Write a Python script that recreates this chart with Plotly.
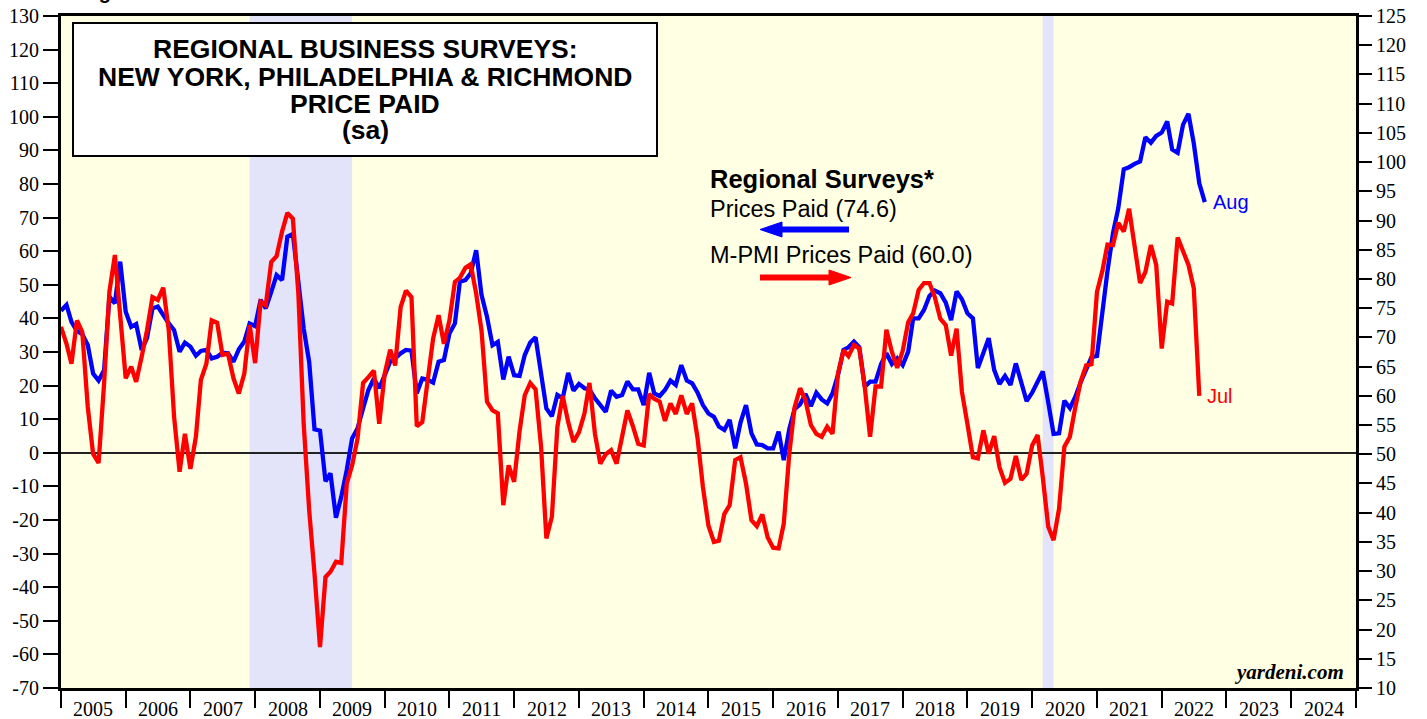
import pandas as pd
import plotly.graph_objects as go

# ---------------- data (monthly, first value = Dec 2004) ----------------
regional_prices_paid = [
    42.3, 44.0, 39.0, 36.3, 35.3, 32.1, 23.6, 21.5, 24.6, 46.5, 44.5, 56.9,
    42.0, 37.5, 38.3, 30.6, 34.1, 43.0, 43.5, 40.7, 38.5, 36.5, 30.1, 32.8,
    31.6, 28.9, 30.3, 30.6, 28.1, 28.6, 29.8, 29.6, 27.1, 30.8, 33.1, 38.5,
    37.7, 45.5, 43.0, 47.9, 52.9, 51.4, 64.3, 65.1, 52.0, 37.0, 27.0, 7.0,
    6.6, -8.5, -6.1, -19.3, -13.1, -5.1, 4.3, 7.3, 13.2, 18.7, 22.1, 19.2,
    23.1, 27.1, 28.1, 29.6, 30.6, 30.4, 17.7, 22.1, 21.7, 20.9, 27.1, 27.6,
    35.5, 38.5, 50.9, 51.4, 53.4, 60.3, 47.0, 40.5, 32.0, 33.0, 21.8, 28.6,
    23.1, 22.9, 29.1, 32.8, 34.4, 24.6, 13.2, 10.9, 17.2, 16.2, 23.8, 18.5,
    20.5, 19.2, 18.9, 16.2, 14.2, 12.2, 18.5, 16.7, 17.2, 21.2, 18.9, 18.9,
    14.2, 23.8, 17.7, 16.9, 18.7, 21.5, 20.2, 26.1, 21.5, 20.7, 17.9, 14.2,
    11.7, 10.7, 7.8, 6.8, 9.8, 1.3, 9.0, 14.2, 5.8, 2.5, 2.3, 1.3,
    1.3, 6.3, -2.2, 7.0, 13.0, 14.4, 17.5, 13.9, 17.9, 15.9, 14.7, 17.7,
    23.2, 30.6, 31.4, 33.1, 31.4, 19.7, 21.2, 21.2, 26.4, 29.6, 26.4, 28.1,
    26.1, 30.1, 40.0, 40.0, 42.5, 46.7, 48.3, 47.5, 44.7, 39.5, 48.0, 45.7,
    41.5, 40.0, 25.2, 29.6, 34.1, 24.7, 20.5, 22.9, 20.2, 26.6, 21.0, 15.4,
    17.9, 20.9, 24.2, 15.0, 5.6, 5.8, 15.5, 13.3, 16.7, 21.0, 24.7, 28.5,
    28.8, 42.5, 54.0, 65.3, 72.8, 84.4, 85.0, 86.0, 86.7, 93.9, 92.3, 94.3,
    95.3, 98.6, 90.3, 89.3, 97.6, 100.9, 92.1, 80.2, 74.6,
]

mpmi_prices_paid = [
    71.8, 68.9, 65.5, 72.9, 70.9, 58.1, 50.1, 48.5, 62.1, 77.8, 84.1, 73.5,
    63.0, 65.0, 62.4, 66.7, 71.2, 76.9, 76.4, 78.5, 71.2, 56.4, 47.0, 53.5,
    47.5, 53.0, 62.7, 65.5, 72.9, 72.5, 67.0, 67.2, 63.0, 60.4, 63.8, 72.1,
    65.6, 76.1, 75.5, 82.9, 83.9, 88.1, 91.3, 90.3, 77.5, 55.2, 40.4, 29.6,
    17.0, 29.0, 29.9, 31.6, 31.4, 45.0, 48.1, 52.7, 62.2, 63.2, 64.3, 55.2,
    63.8, 67.9, 65.2, 75.2, 78.0, 76.9, 54.8, 55.5, 62.4, 69.8, 73.8, 68.9,
    72.9, 79.5, 80.2, 81.9, 82.5, 77.5, 71.2, 59.0, 57.5, 57.0, 41.3, 48.1,
    45.3, 54.0, 60.1, 62.2, 61.1, 51.3, 35.6, 39.3, 54.7, 60.0, 55.5, 52.1,
    53.8, 57.0, 62.2, 53.5, 48.4, 50.0, 50.7, 48.4, 53.0, 57.5, 54.8, 51.8,
    51.5, 60.3, 59.5, 59.0, 55.7, 58.7, 56.9, 60.1, 56.9, 58.7, 52.7, 44.4,
    37.8, 35.0, 35.2, 39.8, 41.3, 49.0, 49.5, 45.0, 38.7, 37.7, 39.7, 35.8,
    34.0, 33.9, 38.1, 50.0, 58.0, 61.3, 59.3, 55.0, 53.5, 53.0, 54.7, 53.5,
    63.8, 67.8, 66.8, 68.7, 68.1, 61.5, 53.0, 61.6, 61.6, 71.3, 67.5, 64.8,
    67.7, 72.6, 74.1, 78.1, 79.3, 79.3, 76.9, 73.2, 72.1, 66.9, 71.5, 60.7,
    55.2, 49.5, 49.3, 54.1, 50.1, 53.1, 47.8, 45.1, 45.8, 49.7, 45.6, 46.7,
    51.5, 53.3, 46.1, 37.6, 35.3, 40.7, 51.3, 53.0, 58.1, 62.5, 65.2, 65.4,
    77.8, 81.5, 85.9, 85.8, 89.6, 88.1, 92.0, 85.8, 79.3, 81.2, 85.8, 82.4,
    68.1, 76.1, 75.8, 87.1, 84.9, 82.4, 78.4, 60.0,
]

first_month = "2004-12"
recessions = [("2007-12-01", "2009-07-01"), ("2020-03-01", "2020-05-01")]
years = list(range(2005, 2025))
left_ticks = list(range(-70, 131, 10))
left_labels = [str(v) for v in left_ticks]
right_ticks = list(range(10, 126, 5))
right_labels = [str(v) for v in right_ticks]

title_lines = ["REGIONAL BUSINESS SURVEYS:", "NEW YORK, PHILADELPHIA & RICHMOND",
               "PRICE PAID", "(sa)"]


# monthly points drawn at month end
def month_end_dates(n):
    per = pd.period_range(first_month, periods=n, freq="M")
    return (per + 1).to_timestamp()


x_blue = month_end_dates(len(regional_prices_paid))
x_red = month_end_dates(len(mpmi_prices_paid))

# ---------------- layout geometry ----------------
W, H = 1427, 719
L, R, T, B = 61, 1356, 16, 688


def px(xp):
    return (xp - L) / (R - L)


def py(yp):
    return (B - yp) / (B - T)


SANS = "Liberation Sans, Arial, sans-serif"
SERIF = "Liberation Serif, Times New Roman, serif"
BLUE = "#0000FF"
RED = "#FF0000"

fig = go.Figure()
fig.add_trace(go.Scatter(x=x_blue, y=regional_prices_paid, mode="lines",
                         line=dict(color=BLUE, width=4.3), yaxis="y",
                         name="Prices Paid", showlegend=False))
fig.add_trace(go.Scatter(x=x_red, y=mpmi_prices_paid, mode="lines",
                         line=dict(color=RED, width=4.3), yaxis="y2",
                         name="M-PMI Prices Paid", showlegend=False))

shapes = []
for a, b in recessions:
    shapes.append(dict(type="rect", xref="x", yref="paper", x0=a, x1=b, y0=0, y1=1,
                       fillcolor="#E3E3FA", line=dict(width=0), layer="below"))
# title box
shapes.append(dict(type="rect", xref="paper", yref="paper",
                   x0=px(73), x1=px(657), y0=py(156), y1=py(23),
                   fillcolor="white", line=dict(color="black", width=2), layer="above"))


# legend arrows
def arrow(x_tail, x_tip, yp, color):
    d = 1 if x_tip > x_tail else -1
    head_len, half_h = 22, 7.5
    base = x_tip - d * head_len
    return [dict(type="line", xref="paper", yref="paper",
                 x0=px(x_tail), x1=px(base + d * 2), y0=py(yp), y1=py(yp),
                 line=dict(color=color, width=6), layer="above"),
            dict(type="path", xref="paper", yref="paper",
                 path=f"M {px(x_tip)},{py(yp)} L {px(base)},{py(yp - half_h)} "
                      f"L {px(base)},{py(yp + half_h)} Z",
                 fillcolor=color, line=dict(color=color, width=1), layer="above")]


shapes += arrow(849, 760, 229.5, BLUE)
shapes += arrow(760, 851, 277.5, RED)

ann = []
for txt, yc in zip(title_lines, [49.5, 77.2, 103.8, 130]):
    ann.append(dict(text=f"<b>{txt}</b>", xref="paper", yref="paper", x=px(365), y=py(yc),
                    xanchor="center", yanchor="middle", showarrow=False,
                    font=dict(family=SANS, size=26.5, color="black")))

ann.append(dict(text="<b>Regional Surveys*</b>", xref="paper", yref="paper", x=px(708),
                y=py(179.5), xanchor="left", yanchor="middle", showarrow=False,
                font=dict(family=SANS, size=25.5, color="black")))
ann.append(dict(text="Prices Paid (74.6)", xref="paper", yref="paper", x=px(708),
                y=py(209.2), xanchor="left", yanchor="middle", showarrow=False,
                font=dict(family=SANS, size=23.5, color="black")))
ann.append(dict(text="M-PMI Prices Paid (60.0)", xref="paper", yref="paper", x=px(708),
                y=py(255.3), xanchor="left", yanchor="middle", showarrow=False,
                font=dict(family=SANS, size=23.5, color="black")))

ann.append(dict(text="Aug", xref="x", yref="y", x=x_blue[-1], y=regional_prices_paid[-1],
                xanchor="left", yanchor="middle", xshift=6, showarrow=False,
                font=dict(family=SANS, size=20, color=BLUE)))
ann.append(dict(text="Jul", xref="x", yref="y2", x=x_red[-1], y=mpmi_prices_paid[-1],
                xanchor="left", yanchor="middle", xshift=6, showarrow=False,
                font=dict(family=SANS, size=20, color=RED)))

ann.append(dict(text="<b><i>yardeni.com</i></b>", xref="paper", yref="paper",
                x=px(1346), y=py(672), xanchor="right", yanchor="middle", showarrow=False,
                font=dict(family=SERIF, size=21, color="black")))

ann.append(dict(text="<b>Figure 1.</b>", xref="paper", yref="paper", x=px(79), y=py(5),
                xanchor="left", yanchor="bottom", showarrow=False,
                font=dict(family=SANS, size=20, color="black")))

for yr in years:
    ann.append(dict(text=str(yr), xref="x", yref="paper", x=f"{yr}-07-02", y=0,
                    yanchor="middle", xanchor="center", yshift=-21, showarrow=False,
                    font=dict(family=SERIF, size=20, color="black")))

fig.update_layout(
    width=W, height=H,
    margin=dict(l=L, r=W - R, t=T, b=H - B, pad=0, autoexpand=False),
    paper_bgcolor="white",
    plot_bgcolor="#FFFFE3",
    showlegend=False,
    shapes=shapes,
    annotations=ann,
    xaxis=dict(type="date", range=["2005-01-01", "2025-01-01"],
               tickvals=[f"{y}-01-01" for y in range(2005, 2026)],
               showticklabels=False, ticks="outside", ticklen=17, tickwidth=2,
               tickcolor="black", showline=True, linewidth=3, linecolor="black",
               mirror=True, showgrid=False, zeroline=False, automargin=False),
    yaxis=dict(range=[-70, 130], tickvals=left_ticks, ticktext=left_labels,
               ticks="outside", ticklen=15, tickwidth=1.5, tickcolor="black",
               showline=True, linewidth=3, linecolor="black", showgrid=False,
               zeroline=True, zerolinecolor="#222222", zerolinewidth=1.5,
               automargin=False,
               tickfont=dict(family=SERIF, size=20, color="black")),
    yaxis2=dict(range=[10, 125], tickvals=right_ticks, ticktext=right_labels,
                overlaying="y", side="right", ticks="outside", ticklen=13,
                tickwidth=1.5, tickcolor="black", showline=True, linewidth=3,
                linecolor="black", showgrid=False, zeroline=False, automargin=False,
                tickfont=dict(family=SERIF, size=20, color="black")),
)

fig.write_html(
    "out.html",
    config={"displayModeBar": False},
    post_script="document.body.style.margin='0';document.body.style.overflow='hidden';",
)
